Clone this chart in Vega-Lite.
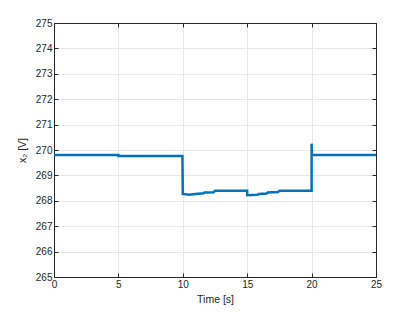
{
  "$schema": "https://vega.github.io/schema/vega-lite/v6.json",
  "width": 322,
  "height": 254,
  "autosize": {"type": "none"},
  "padding": {"left": 54, "top": 23, "right": 39, "bottom": 35},
  "config": {
    "font": "Liberation Sans",
    "view": {"stroke": "#262626", "strokeWidth": 1},
    "axis": {
      "domainColor": "#262626",
      "tickColor": "#262626",
      "labelColor": "#262626",
      "titleColor": "#262626",
      "labelFontSize": 10,
      "titleFontSize": 10.5,
      "titleFontWeight": "normal",
      "gridColor": "#e8e8e8",
      "tickSize": -4,
      "labelPadding": 6,
      "labelFlush": false
    }
  },
  "data": {
    "values": [
      {"i": 0, "t": 0, "v": 269.8},
      {"i": 1, "t": 5, "v": 269.8},
      {"i": 2, "t": 5, "v": 269.76},
      {"i": 3, "t": 9.97, "v": 269.76},
      {"i": 4, "t": 10, "v": 268.27},
      {"i": 5, "t": 10.5, "v": 268.24},
      {"i": 6, "t": 10.8, "v": 268.26},
      {"i": 7, "t": 11.2, "v": 268.28},
      {"i": 8, "t": 11.6, "v": 268.3},
      {"i": 9, "t": 11.7, "v": 268.33},
      {"i": 10, "t": 12.4, "v": 268.34},
      {"i": 11, "t": 12.5, "v": 268.4},
      {"i": 12, "t": 15, "v": 268.4},
      {"i": 13, "t": 15, "v": 268.22},
      {"i": 14, "t": 15.8, "v": 268.24},
      {"i": 15, "t": 15.9, "v": 268.27},
      {"i": 16, "t": 16.5, "v": 268.29},
      {"i": 17, "t": 16.6, "v": 268.33},
      {"i": 18, "t": 17.4, "v": 268.35},
      {"i": 19, "t": 17.5, "v": 268.4},
      {"i": 20, "t": 20, "v": 268.4},
      {"i": 21, "t": 20, "v": 270.25},
      {"i": 22, "t": 20.03, "v": 269.8},
      {"i": 23, "t": 25, "v": 269.8}
    ]
  },
  "layer": [
    {
      "mark": {"type": "line", "color": "#0072BD", "strokeWidth": 2.5, "clip": true},
      "encoding": {
        "x": {"field": "t", "type": "quantitative", "scale": {"domain": [0, 25], "nice": false, "zero": false},
              "axis": {"values": [0, 5, 10, 15, 20, 25], "title": "Time [s]", "titlePadding": 5, "grid": true}},
        "y": {"field": "v", "type": "quantitative", "scale": {"domain": [265, 275], "nice": false, "zero": false},
              "axis": {"values": [265, 266, 267, 268, 269, 270, 271, 272, 273, 274, 275], "title": "x₂ [V]", "titlePadding": 8, "grid": true}},
        "order": {"field": "i", "type": "quantitative"}
      }
    },
    {
      "mark": {"type": "line", "opacity": 0},
      "encoding": {
        "x": {"field": "t", "type": "quantitative", "scale": {"domain": [0, 25], "nice": false, "zero": false},
              "axis": {"orient": "top", "values": [0, 5, 10, 15, 20, 25], "labels": false, "title": null, "grid": false}},
        "y": {"field": "v", "type": "quantitative", "scale": {"domain": [265, 275], "nice": false, "zero": false},
              "axis": {"orient": "right", "values": [265, 266, 267, 268, 269, 270, 271, 272, 273, 274, 275], "labels": false, "title": null, "grid": false}},
        "order": {"field": "i", "type": "quantitative"}
      }
    }
  ],
  "resolve": {"axis": {"x": "independent", "y": "independent"}}
}
